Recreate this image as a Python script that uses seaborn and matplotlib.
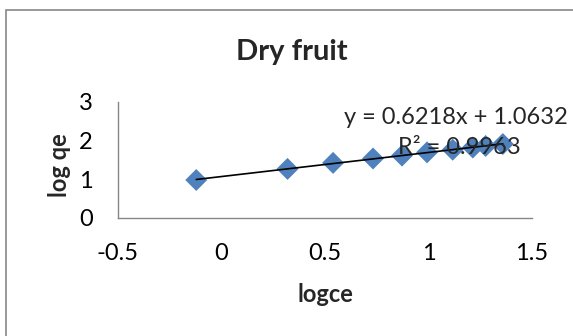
import numpy as np
import pandas as pd
import matplotlib
matplotlib.use("Agg")
import matplotlib.pyplot as plt
import seaborn as sns
from matplotlib.patches import Rectangle

log_ce = [-0.122, 0.319, 0.539, 0.732, 0.872, 0.993, 1.117, 1.214, 1.276, 1.359]
log_qe = [0.975, 1.262, 1.418, 1.531, 1.606, 1.690, 1.758, 1.815, 1.855, 1.905]
x_ticks = [-0.5, 0, 0.5, 1, 1.5]
x_tick_labels = ["-0.5", "0", "0.5", "1", "1.5"]
y_ticks = [0, 1, 2, 3]
title = "Dry fruit"
equation = "y = 0.6218x + 1.0632"
r2_text = "R² = 0.9963"

sns.set_theme(style="white")
plt.rcParams['font.family'] = ['Lato', 'DejaVu Sans']

df = pd.DataFrame({"logce": log_ce, "logqe": log_qe})

fig = plt.figure(figsize=(5.73, 3.36), dpi=100)
fig.patch.set_facecolor("white")
fig.patches.append(Rectangle((5.5 / 573, -0.1), 1.2, 1 - 10 / 336 + 0.1,
                             transform=fig.transFigure, fill=False,
                             edgecolor="#888888", linewidth=1.2, zorder=0))

ax = fig.add_axes([118 / 573, 1 - 217.7 / 336, (532 - 118) / 573, (217.7 - 101.7) / 336])
sns.regplot(data=df, x="logce", y="logqe", ax=ax, ci=None, truncate=True,
            marker="D",
            scatter_kws={"s": 125, "color": "#4F81BD", "edgecolor": "none", "zorder": 2, "alpha": 1},
            line_kws={"color": "black", "linewidth": 1.2, "zorder": 3})

ax.set_xlim(-0.5, 1.5)
ax.set_ylim(0, 3)
ax.set_xticks(x_ticks)
ax.set_xticklabels(x_tick_labels)
ax.set_yticks(y_ticks)
for s in ["top", "right"]:
    ax.spines[s].set_visible(False)
for s in ["left", "bottom"]:
    ax.spines[s].set_color("#868686")
    ax.spines[s].set_linewidth(1.0)
ax.tick_params(axis="both", which="major", length=6, width=1, color="#868686",
               labelsize=17, labelcolor="black", direction="out")
ax.tick_params(axis="x", pad=12)
ax.tick_params(axis="y", pad=12)
ax.set_xlabel("logce", fontsize=17, fontweight="bold", labelpad=14)
ax.set_ylabel("log qe", fontsize=17, fontweight="bold", labelpad=5)
ax.yaxis.set_label_coords(-0.113, 0.45)
ax.set_facecolor("white")

fig.text(292 / 573, 1 - 52 / 336, title, ha="center", va="center",
         fontsize=21, fontweight="bold")
fig.text(568 / 573, 1 - 117 / 336, equation, ha="right", va="center", fontsize=17)
fig.text(398 / 573, 1 - 148 / 336, r2_text, ha="left", va="center", fontsize=17, zorder=1)

fig.savefig("out.png", dpi=100)
